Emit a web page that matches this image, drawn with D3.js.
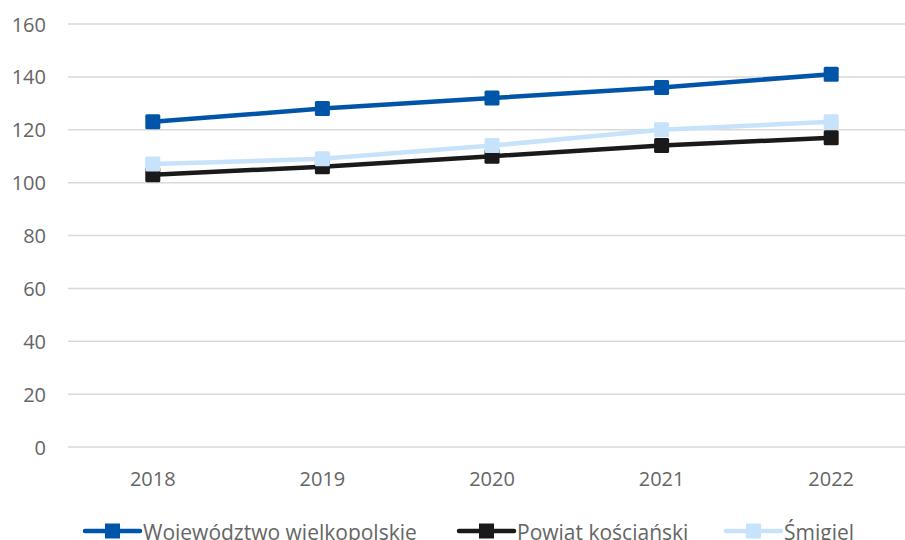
<!DOCTYPE html>
<html>
<head>
<meta charset="utf-8">
<script src="https://cdn.jsdelivr.net/npm/d3@7"></script>
<style>
  body { margin: 0; background: #fff; }
  svg text { font-family: "Open Sans", sans-serif; fill: #656565; }
</style>
</head>
<body>
<svg id="chart" width="905" height="540"></svg>
<script>
var years = ['2018', '2019', '2020', '2021', '2022'];
var yTicks = [0, 20, 40, 60, 80, 100, 120, 140, 160];
var seriesNames = ['Województwo wielkopolskie', 'Powiat kościański', 'Śmigiel'];
var wojewodztwo = [123, 128, 132, 136, 141];
var powiat = [103, 106, 110, 114, 117];
var smigiel = [107, 109, 114, 120, 123];
var colors = ['#0055A8', '#1A1A1A', '#C7E2FB'];

var svg = d3.select('#chart');

var x = d3.scaleBand().domain(years).range([68, 916]);
var y = d3.scaleLinear().domain([0, 160]).range([447, 24]);

// gridlines
svg.append('g').selectAll('line')
  .data(yTicks)
  .enter().append('line')
  .attr('x1', 68).attr('x2', 905)
  .attr('y1', function(d) { return y(d); })
  .attr('y2', function(d) { return y(d); })
  .attr('stroke', '#D9D9D9')
  .attr('stroke-width', 1.5);

// y labels
svg.append('g').selectAll('text')
  .data(yTicks)
  .enter().append('text')
  .attr('x', 46)
  .attr('y', function(d) { return y(d) + 7.5; })
  .attr('text-anchor', 'end')
  .style('font-size', '20px')
  .text(function(d) { return d; });

// x labels
svg.append('g').selectAll('text')
  .data(years)
  .enter().append('text')
  .attr('x', function(d) { return x(d) + x.bandwidth() / 2; })
  .attr('y', 486)
  .attr('text-anchor', 'middle')
  .style('font-size', '20px')
  .text(function(d) { return d; });

var series = [wojewodztwo, powiat, smigiel];
// black first, then light blue, dark blue on top
var order = [1, 2, 0];
var line = d3.line()
  .x(function(d, i) { return x(years[i]) + x.bandwidth() / 2; })
  .y(function(d) { return y(d); });

order.forEach(function(k) {
  var g = svg.append('g');
  g.append('path')
    .attr('d', line(series[k]))
    .attr('fill', 'none')
    .attr('stroke', colors[k])
    .attr('stroke-width', 4.5)
    .attr('stroke-linejoin', 'round');
  g.selectAll('rect')
    .data(series[k])
    .enter().append('rect')
    .attr('x', function(d, i) { return x(years[i]) + x.bandwidth() / 2 - 7.5; })
    .attr('y', function(d) { return y(d) - 7.5; })
    .attr('width', 15).attr('height', 15)
    .attr('rx', 1.5)
    .attr('fill', colors[k]);
});

// legend
var legendX = [85, 459, 726];
var legend = svg.append('g').selectAll('g')
  .data(seriesNames)
  .enter().append('g')
  .attr('transform', function(d, i) { return 'translate(' + legendX[i] + ',531)'; });
legend.append('line')
  .attr('x1', 0).attr('x2', 55)
  .attr('stroke', function(d, i) { return colors[i]; })
  .attr('stroke-width', 4.5)
  .attr('stroke-linecap', 'round');
legend.append('rect')
  .attr('x', 20).attr('y', -7.5)
  .attr('width', 15).attr('height', 15)
  .attr('fill', function(d, i) { return colors[i]; });
legend.append('text')
  .attr('x', 58).attr('y', 9)
  .style('font-size', '21px')
  .text(function(d) { return d; });
</script>
</body>
</html>
